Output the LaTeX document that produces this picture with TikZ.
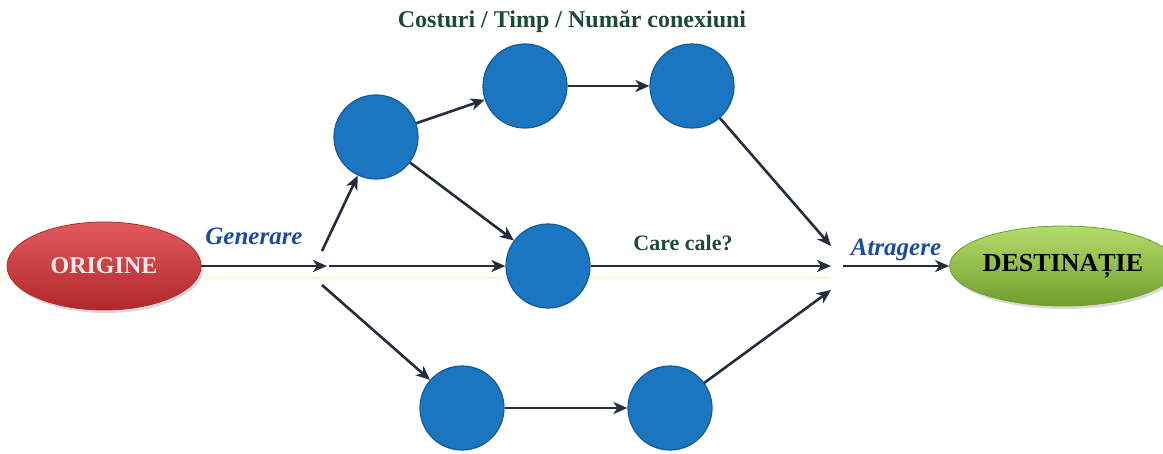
\documentclass[tikz,border=0pt]{standalone}
\usepackage{fontspec}
\setmainfont{Liberation Serif}
\usetikzlibrary{arrows.meta,shapes.geometric,shadows}
\definecolor{nodeblue}{HTML}{1B76C2}
\definecolor{nodeedge}{HTML}{135A96}
\definecolor{linecol}{HTML}{252D3C}
\definecolor{redtop}{HTML}{E25A5C}
\definecolor{redbot}{HTML}{B0282C}
\definecolor{greentop}{HTML}{B5DC6A}
\definecolor{greenbot}{HTML}{6E9E2C}
\definecolor{labblue}{HTML}{1E4C9A}
\definecolor{labgreen}{HTML}{1C4A34}
\begin{document}
\begin{tikzpicture}[x=1pt,y=-1pt,
  dot/.style={circle,minimum size=84pt,inner sep=0pt,fill=nodeblue,draw=nodeedge,line width=1.2pt},
  conn/.style={draw=linecol,line width=2.6pt,-{Stealth[length=14pt,width=12pt,inset=4pt]}},
  endbox/.style={ellipse,inner sep=0pt,line width=0.8pt,drop shadow={shadow xshift=2pt,shadow yshift=-3pt,opacity=0.3}},
  lab/.style={text=labblue},
  glab/.style={text=labgreen}]
\useasboundingbox (0,0) rectangle (1163,453);
\draw[draw={rgb,255:red,252;green,246;blue,222},line width=3pt] (0,277) -- (830,277);
% end nodes
\node[endbox,minimum width=194pt,minimum height=88pt,top color=redtop,bottom color=redbot,draw=redbot,
  font=\fontsize{24}{28}\selectfont\bfseries,text=white!92!red] (O) at (104,266) {ORIGINE};
\node[endbox,minimum width=194pt,minimum height=80pt,top color=greentop,bottom color=greenbot,draw=greenbot,
  font=\fontsize{26}{30}\selectfont\bfseries,text=black] (Dst) at (1063,266) {DESTINAȚIE};
% circles
\node[dot] (A) at (376,137) {};
\node[dot] (B) at (525,86) {};
\node[dot] (D) at (692,86) {};
\node[dot] (C) at (548,266) {};
\node[dot] (E) at (462,408) {};
\node[dot] (F) at (670,408) {};
% split / join coordinates
\coordinate (s) at (327,266);
\coordinate (s1) at (322,251);
\coordinate (s2) at (329,266);
\coordinate (s3) at (322,285);
\coordinate (t1) at (831,246);
\coordinate (t2) at (831,266);
\coordinate (t3) at (831,290);
\coordinate (u) at (843,266);
% connectors
\draw[conn] (O) -- (s);
\draw[conn] (s1) -- (A);
\draw[conn] (s2) -- (C);
\draw[conn] (s3) -- (E);
\draw[conn] (A) -- (B);
\draw[conn] (A) -- (C);
\draw[conn] (B) -- (D);
\draw[conn] (E) -- (F);
\draw[conn] (D) -- (t1);
\draw[conn] (C) -- (t2);
\draw[conn] (F) -- (t3);
\draw[conn] (u) -- (Dst);
% labels
\node[lab,font=\fontsize{25}{28}\selectfont\bfseries\itshape] (gen) at (254,236) {Generare};
\node[lab,font=\fontsize{25}{28}\selectfont\bfseries\itshape] (atr) at (896,250) {Atragere};
\node[glab,font=\fontsize{22}{26}\selectfont\bfseries] (care) at (683,243) {Care cale?};
\node[glab,font=\fontsize{24}{28}\selectfont\bfseries] (cost) at (572,22) {Costuri / Timp / Număr conexiuni};
\end{tikzpicture}
\end{document}
